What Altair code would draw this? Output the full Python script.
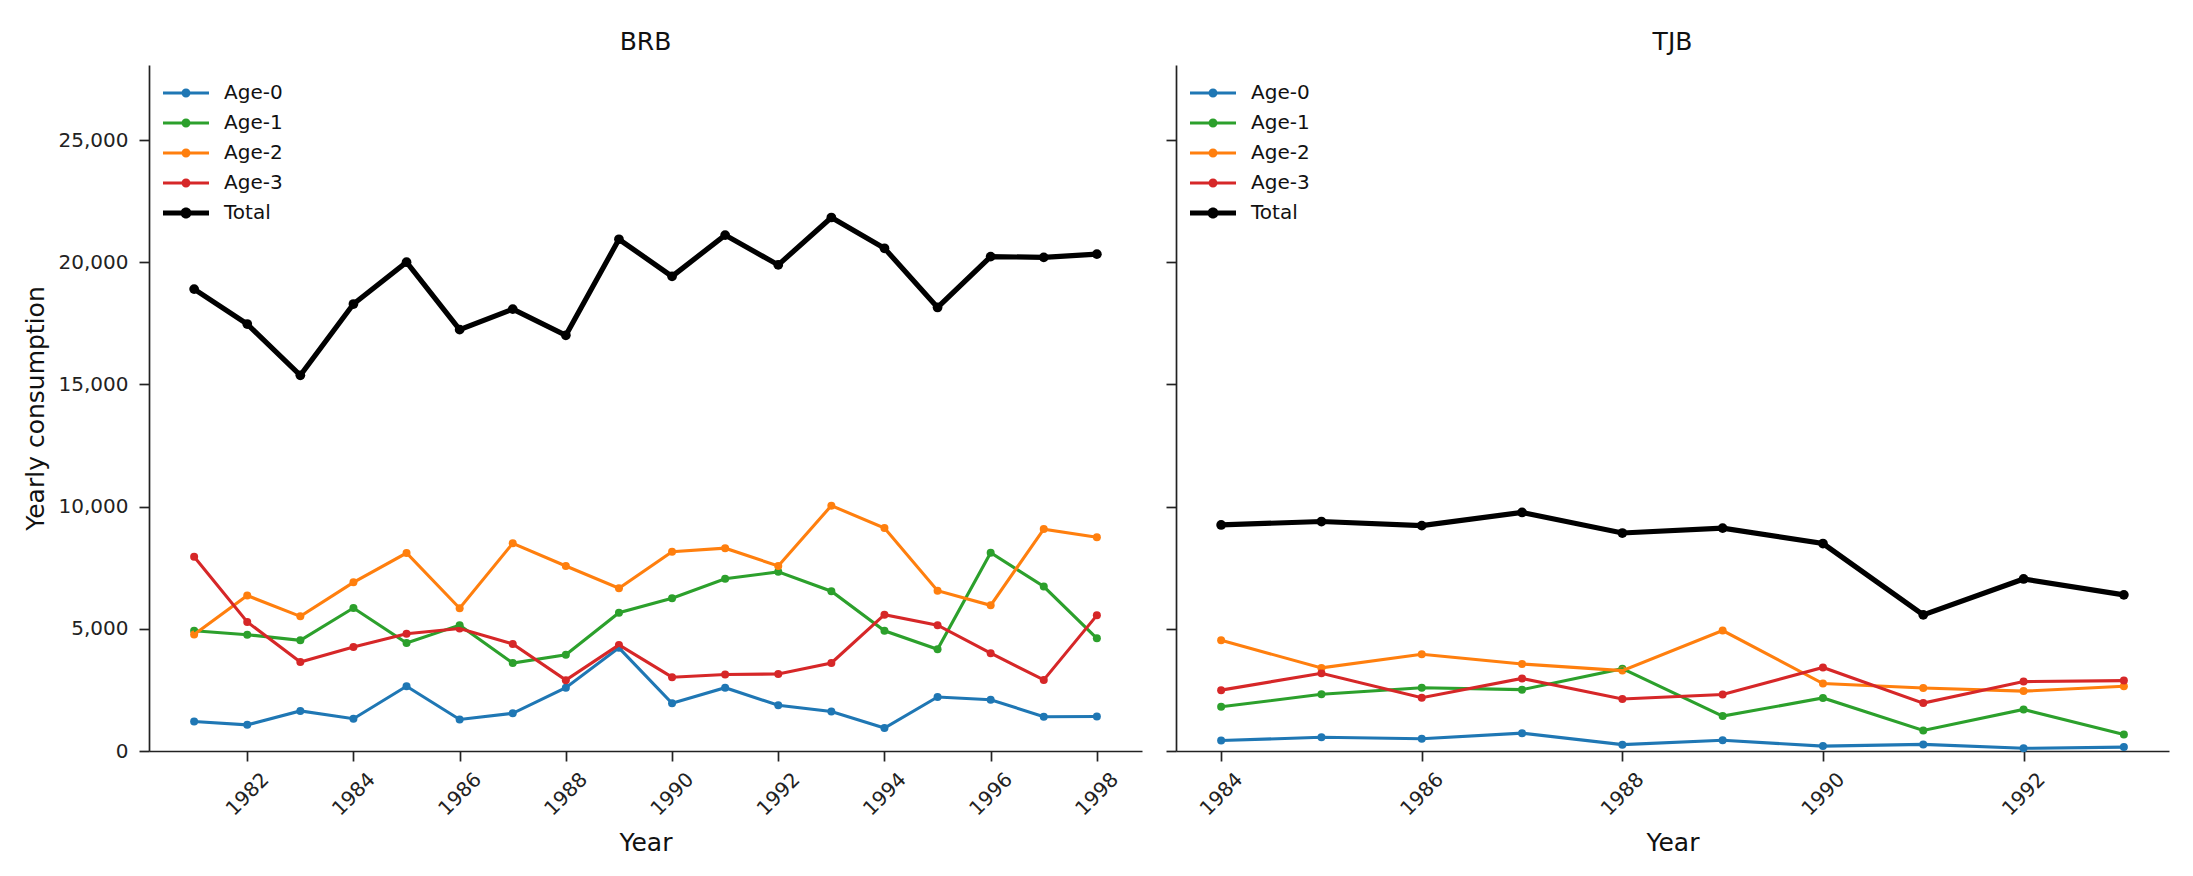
import altair as alt
import pandas as pd

SERIES = ["Age-0", "Age-1", "Age-2", "Age-3", "Total"]
COLORS = ["#1f77b4", "#2ca02c", "#ff7f0e", "#d62728", "#000000"]

# ---- BRB (1981-1998) ----
brb_years = [1981, 1982, 1983, 1984, 1985, 1986, 1987, 1988, 1989,
             1990, 1991, 1992, 1993, 1994, 1995, 1996, 1997, 1998]
brb_age0 = [1210, 1070, 1640, 1320, 2650, 1290, 1540, 2590, 4220,
            1950, 2590, 1870, 1620, 940, 2210, 2100, 1400, 1410]
brb_age1 = [4920, 4760, 4530, 5850, 4420, 5150, 3600, 3940, 5660,
            6250, 7050, 7330, 6540, 4920, 4160, 8110, 6730, 4610]
brb_age2 = [4770, 6360, 5510, 6900, 8100, 5840, 8500, 7570, 6660,
            8150, 8300, 7570, 10040, 9120, 6560, 5960, 9080, 8750]
brb_age3 = [7950, 5280, 3640, 4260, 4800, 5010, 4380, 2900, 4340,
            3020, 3130, 3150, 3600, 5580, 5150, 4000, 2910, 5550]
brb_total = [18900, 17470, 15370, 18290, 20000, 17240, 18080, 17010, 20940,
             19420, 21110, 19890, 21830, 20570, 18150, 20230, 20200, 20330]

# ---- TJB (1984-1993) ----
tjb_years = [1984, 1985, 1986, 1987, 1988, 1989, 1990, 1991, 1992, 1993]
tjb_age0 = [430, 560, 500, 730, 260, 440, 200, 270, 110, 160]
tjb_age1 = [1810, 2320, 2590, 2510, 3370, 1430, 2170, 840, 1700, 680]
tjb_age2 = [4530, 3400, 3960, 3560, 3290, 4930, 2760, 2580, 2450, 2650]
tjb_age3 = [2490, 3180, 2180, 2970, 2130, 2310, 3420, 1960, 2840, 2880]
tjb_total = [9250, 9390, 9220, 9760, 8920, 9120, 8490, 5570, 7040, 6390]

y_ticks = [0, 5000, 10000, 15000, 20000, 25000]
brb_xticks = [1982, 1984, 1986, 1988, 1990, 1992, 1994, 1996, 1998]
tjb_xticks = [1984, 1986, 1988, 1990, 1992]

FONT = "DejaVu Sans"


def long_df(years, cols):
    rows = []
    for name, vals in zip(SERIES, cols):
        for yr, v in zip(years, vals):
            rows.append({"Year": yr, "Series": name, "Value": v})
    return pd.DataFrame(rows)


AGE_PATH = "M-1.15,-0.078H1.15V0.078H-1.15Z M0.225,0A0.225,0.225,0,1,1,-0.225,0A0.225,0.225,0,1,1,0.225,0Z"
TOT_PATH = "M-1.15,-0.13H1.15V0.13H-1.15Z M0.275,0A0.275,0.275,0,1,1,-0.275,0A0.275,0.275,0,1,1,0.275,0Z"
shape_expr = f"datum.value === 'Total' ? '{TOT_PATH}' : '{AGE_PATH}'"


def make_legend():
    return alt.Legend(
        title=None, orient="none", legendX=17, legendY=8,
        symbolType={"expr": shape_expr},
        symbolSize=1600, symbolStrokeWidth=0, symbolOffset=0, symbolOpacity=1,
        labelFont=FONT, labelFontSize=20, labelColor="#111111",
        labelOffset=18, rowPadding=0, padding=0,
    )


def panel(df, title, xdomain, xticks, first):
    x = alt.X("Year:Q",
              scale=alt.Scale(domain=xdomain, nice=False, zero=False),
              axis=alt.Axis(values=xticks, format="d", title="Year",
                            labelAngle=315, labelAlign="center", labelBaseline="middle",
                            labelPadding=33, titlePadding=11, labelFlush=False))
    if first:
        yaxis = alt.Axis(values=y_ticks, format=",d", title="Yearly consumption",
                         labelPadding=11, titlePadding=10)
    else:
        yaxis = alt.Axis(values=y_ticks, labels=False, title=None)
    y = alt.Y("Value:Q", scale=alt.Scale(domain=[0, 28070], nice=False, zero=True), axis=yaxis)
    cscale = alt.Scale(domain=SERIES, range=COLORS)
    color = alt.Color("Series:N", scale=cscale, legend=make_legend())

    base = alt.Chart(df).encode(x=x, y=y, color=color)
    ages = base.transform_filter(alt.datum.Series != "Total")
    tot = base.transform_filter(alt.datum.Series == "Total")

    p_age = ages.mark_circle(size=64, opacity=1)
    l_age = ages.mark_line(strokeWidth=3.1)
    l_tot = tot.mark_line(strokeWidth=5.2)
    p_tot = tot.mark_circle(size=95, opacity=1)

    return alt.layer(p_age, l_age, l_tot, p_tot).properties(
        width=993, height=686,
        title=alt.TitleParams(title, font=FONT, fontSize=25, fontWeight="normal",
                              color="#111111", baseline="bottom", offset=-15,
                              anchor="middle"),
    )


brb = panel(long_df(brb_years, [brb_age0, brb_age1, brb_age2, brb_age3, brb_total]),
            "BRB", [1980.15, 1998.85], brb_xticks, True)
tjb = panel(long_df(tjb_years, [tjb_age0, tjb_age1, tjb_age2, tjb_age3, tjb_total]),
            "TJB", [1983.55, 1993.45], tjb_xticks, False)

chart = (
    alt.hconcat(brb, tjb, spacing=23)
    .resolve_scale(color="independent", x="independent", y="independent")
    .resolve_legend(color="independent")
    .properties(padding={"left": 23, "top": 30, "right": 5, "bottom": 5})
    .configure_view(stroke=None)
    .configure_axis(
        domainColor="#222222", domainWidth=1.7, tickColor="#222222", tickWidth=1.7,
        tickSize=10, labelFont=FONT, labelFontSize=20, labelColor="#222222",
        titleFont=FONT, titleFontSize=25, titleFontWeight="normal", titleColor="#111111",
        grid=False,
    )
)

chart.save("out.html", embed_options={"renderer": "svg", "actions": False})
